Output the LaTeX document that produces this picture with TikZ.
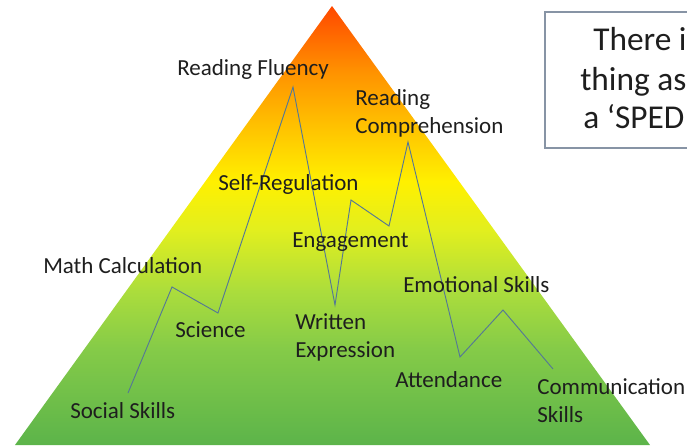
\documentclass[tikz,border=0pt]{standalone}
\usepackage{fontspec}
\setmainfont{Carlito}
\definecolor{txt}{RGB}{30,30,30}
\definecolor{zig}{RGB}{85,120,150}
\definecolor{boxline}{RGB}{135,148,165}
\pgfdeclareverticalshading{pyr}{100bp}{%
  color(0bp)=(rgb,255:red,92;green,180;blue,74);
  color(25bp)=(rgb,255:red,92;green,180;blue,74);
  color(36bp)=(rgb,255:red,133;green,203;blue,72);
  color(42.5bp)=(rgb,255:red,171;green,221;blue,60);
  color(49.5bp)=(rgb,255:red,226;green,239;blue,30);
  color(55bp)=(rgb,255:red,255;green,240;blue,0);
  color(61bp)=(rgb,255:red,255;green,196;blue,0);
  color(67.5bp)=(rgb,255:red,255;green,146;blue,0);
  color(75bp)=(rgb,255:red,255;green,72;blue,0);
  color(100bp)=(rgb,255:red,255;green,72;blue,0)}
\tikzset{
  lbl/.style={font=\fontsize{17.25}{21}\selectfont, text=txt, inner sep=0pt, anchor=base west, align=left},
  boxtxt/.style={font=\fontsize{25}{29}\selectfont, text=txt, inner sep=0pt, anchor=base west},
  zigline/.style={draw=zig, line width=0.7pt, line join=miter}
}
\begin{document}
\begin{tikzpicture}[x=0.75pt,y=-0.75pt]
\useasboundingbox (0,0) rectangle (687,447);
\clip (0,0) rectangle (687,447);
% pyramid
\shade[shading=pyr] (332,6) -- (650,445) -- (15,445) -- cycle;
% text box
\draw[draw=boxline, line width=1.1pt] (545,12) rectangle (720,148);
\node[boxtxt] (t1) at (593,50) {There i};
\node[boxtxt] (t2) at (580,90) {thing as};
\node[boxtxt] (t3) at (583,128) {a ‘SPED};
% zigzag line
\coordinate (p1) at (128,393);
\coordinate (p2) at (172,287);
\coordinate (p3) at (218,313);
\coordinate (p4) at (293,87);
\coordinate (p5) at (335,305);
\coordinate (p6) at (351,200);
\coordinate (p7) at (389,226);
\coordinate (p8) at (408,142);
\coordinate (p9) at (460,357);
\coordinate (p10) at (503,310);
\coordinate (p11) at (553,369);
\draw[zigline] (p1) -- (p2) -- (p3) -- (p4) -- (p5) -- (p6) -- (p7) -- (p8) -- (p9) -- (p10) -- (p11);
% labels (multi-line nodes: base is the last line's baseline)
\node[lbl] (rf) at (177,75) {Reading Fluency};
\node[lbl] (rc) at (355,133) {Reading\\Comprehension};
\node[lbl] (sr) at (218,190) {Self-Regulation};
\node[lbl] (en) at (292,247) {Engagement};
\node[lbl] (mc) at (43,273) {Math Calculation};
\node[lbl] (es) at (403,292) {Emotional Skills};
\node[lbl] (sc) at (175,337) {Science};
\node[lbl] (we) at (295,357) {Written\\Expression};
\node[lbl] (at) at (395,387) {Attendance};
\node[lbl] (cs) at (537,422) {Communication\\Skills};
\node[lbl] (ss) at (70,418) {Social Skills};
\end{tikzpicture}
\end{document}
